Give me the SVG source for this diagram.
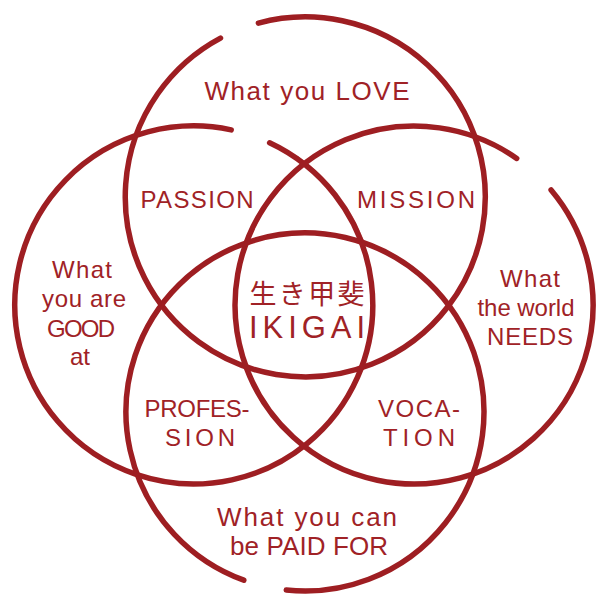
<svg xmlns="http://www.w3.org/2000/svg" width="614" height="614" viewBox="0 0 614 614">
<style>
.ring{fill:none;stroke:#9e1e22;stroke-width:5.5;stroke-linecap:round}
.sketch{fill:none;stroke:#9e1e22;stroke-width:1.2;stroke-linecap:round;opacity:0.5}
text{font-family:"Liberation Sans","Noto Sans CJK JP",sans-serif;fill:#a02226;text-anchor:middle}
.lbl{font-size:24px}
.big{font-size:26px}
</style>
<rect width="614" height="614" fill="#ffffff"/>
<g id="circles">
  <g id="love-circle">
    <path class="ring" d="M258.4,23.1 A180,180 0 1 1 220.5,38.1"/>
    <path class="sketch" d="M330,19 A182,182 0 0 1 470,120"/>
  </g>
  <g id="good-circle">
    <path class="ring" d="M269.6,142.8 A179,179 0 1 1 231.2,129.9"/>
    <path class="sketch" d="M297.8,156.7 A181,181 0 0 1 364.1,243.1"/>
  </g>
  <g id="needs-circle">
    <path class="ring" d="M551.1,189.9 A179,179 0 1 1 516.7,158.4"/>
    <path class="sketch" d="M237,290 A178,178 0 0 1 290,178"/>
  </g>
  <g id="paid-circle">
    <path class="ring" d="M243.8,580.2 A179,179 0 1 1 286.3,590"/>
    <path class="sketch" d="M140,340 A181,181 0 0 1 300,232"/>
    <path class="sketch" d="M320,233 A181,181 0 0 1 470,340"/>
  </g>
</g>
<g id="labels">
  <text id="love" class="big" x="307" y="100" textLength="205" lengthAdjust="spacing">What you LOVE</text>
  <text id="passion" class="lbl" x="197" y="208" textLength="113" lengthAdjust="spacing">PASSION</text>
  <text id="mission" class="lbl" x="416" y="208" textLength="118" lengthAdjust="spacing">MISSION</text>
  <g id="good">
    <text class="lbl" x="82" y="278" textLength="60" lengthAdjust="spacing">What</text>
    <text class="lbl" x="84" y="307" textLength="84" lengthAdjust="spacing">you are</text>
    <text class="lbl" x="81" y="337" textLength="68" lengthAdjust="spacing">GOOD</text>
    <text class="lbl" x="80" y="365">at</text>
  </g>
  <g id="needs">
    <text class="lbl" x="530" y="287" textLength="60" lengthAdjust="spacing">What</text>
    <text class="lbl" x="526" y="316" textLength="97" lengthAdjust="spacing">the world</text>
    <text class="lbl" x="530" y="345" textLength="86" lengthAdjust="spacing">NEEDS</text>
  </g>
  <g id="ikigai">
    <text x="307" y="304" font-size="27" textLength="115" lengthAdjust="spacing">生き甲斐</text>
    <text x="307" y="338" font-size="31" textLength="116" lengthAdjust="spacing">IKIGAI</text>
  </g>
  <g id="profession">
    <text class="lbl" x="197" y="417" textLength="105" lengthAdjust="spacing">PROFES-</text>
    <text class="lbl" x="200" y="446" textLength="70" lengthAdjust="spacing">SION</text>
  </g>
  <g id="vocation">
    <text class="lbl" x="419" y="417" textLength="82" lengthAdjust="spacing">VOCA-</text>
    <text class="lbl" x="419" y="446" textLength="72" lengthAdjust="spacing">TION</text>
  </g>
  <g id="paid">
    <text class="big" x="307" y="526" textLength="180" lengthAdjust="spacing">What you can</text>
    <text class="big" x="309" y="555" textLength="158" lengthAdjust="spacing">be PAID FOR</text>
  </g>
</g>
</svg>
